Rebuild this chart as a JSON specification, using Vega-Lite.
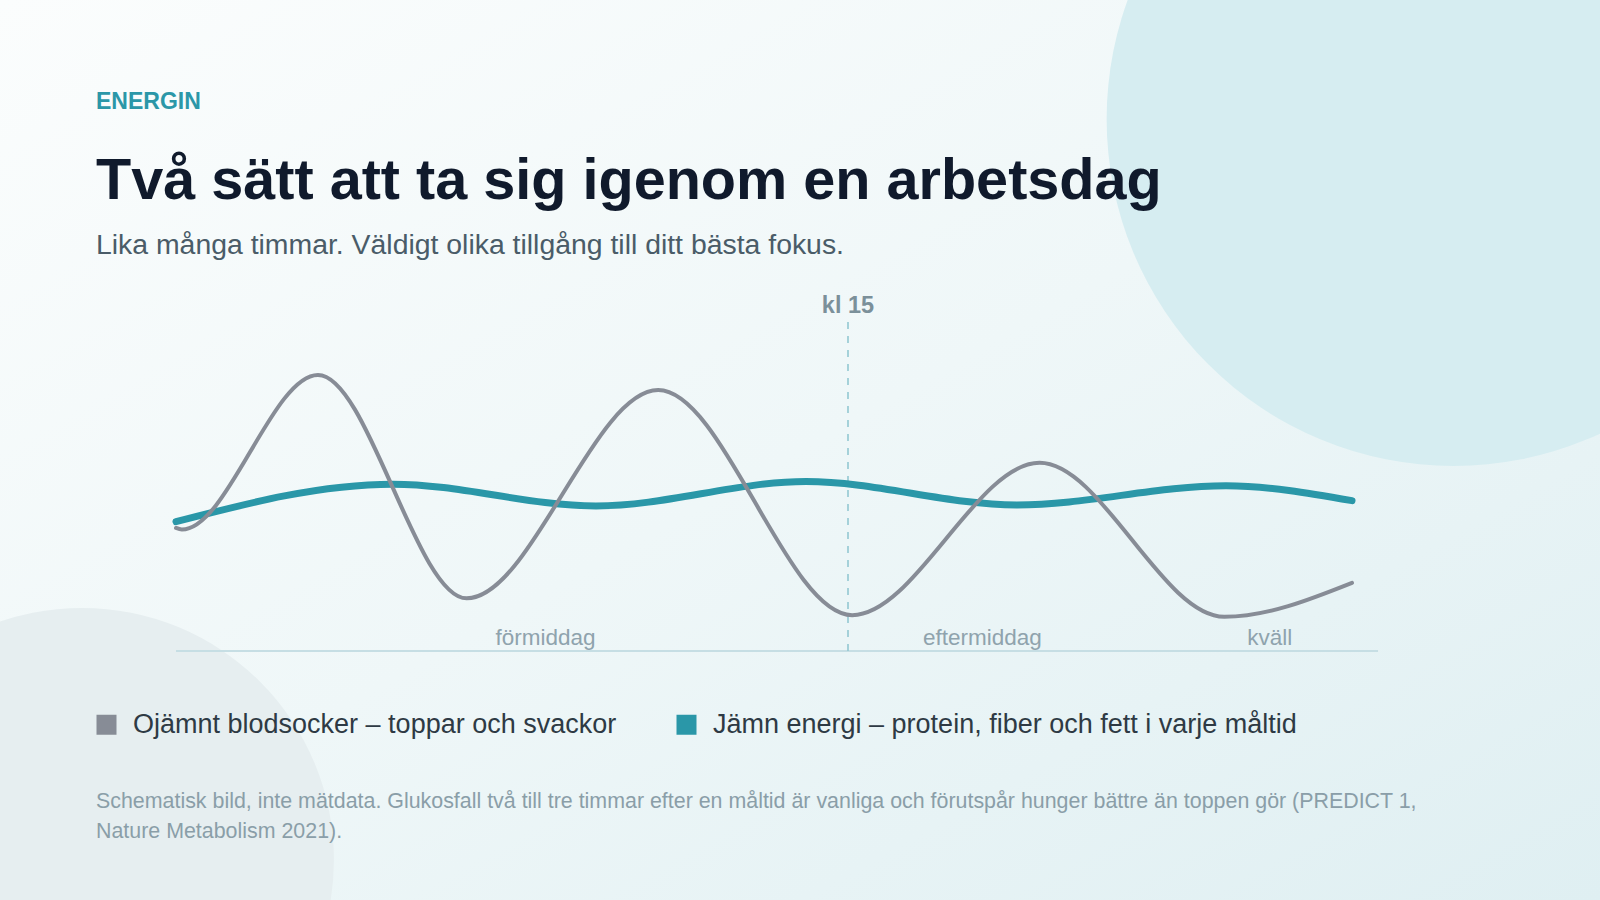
{
  "$schema": "https://vega.github.io/schema/vega-lite/v6.json",
  "width": 1600,
  "height": 900,
  "padding": 0,
  "autosize": {"type": "none"},
  "background": "#f2f8f9",
  "config": {
    "view": {"stroke": null},
    "font": "Liberation Sans",
    "legend": {
      "orient": "none",
      "legendX": 93,
      "legendY": 711,
      "direction": "horizontal",
      "symbolType": "square",
      "symbolSize": 100,
      "symbolStrokeWidth": 10,
      "symbolOpacity": 1,
      "labelFont": "Liberation Sans",
      "labelFontSize": 27,
      "labelColor": "#2e3a44",
      "labelLimit": 1000,
      "labelOffset": 13,
      "columnPadding": 44
    }
  },
  "datasets": {
    "kurvor": [
      {"serie": "Jämn energi – protein, fiber och fett i varje måltid", "timme": 7.0, "niva": 39.3},
      {"serie": "Jämn energi – protein, fiber och fett i varje måltid", "timme": 9.58, "niva": 50.7},
      {"serie": "Jämn energi – protein, fiber och fett i varje måltid", "timme": 12.0, "niva": 44.1},
      {"serie": "Jämn energi – protein, fiber och fett i varje måltid", "timme": 14.5, "niva": 51.5},
      {"serie": "Jämn energi – protein, fiber och fett i varje måltid", "timme": 17.01, "niva": 44.4},
      {"serie": "Jämn energi – protein, fiber och fett i varje måltid", "timme": 19.5, "niva": 50.2},
      {"serie": "Jämn energi – protein, fiber och fett i varje måltid", "timme": 21.0, "niva": 45.7},
      {"serie": "Ojämnt blodsocker – toppar och svackor", "timme": 7.0, "niva": 37.4},
      {"serie": "Ojämnt blodsocker – toppar och svackor", "timme": 7.07, "niva": 36.9},
      {"serie": "Ojämnt blodsocker – toppar och svackor", "timme": 8.69, "niva": 83.9},
      {"serie": "Ojämnt blodsocker – toppar och svackor", "timme": 10.46, "niva": 16.0},
      {"serie": "Ojämnt blodsocker – toppar och svackor", "timme": 12.74, "niva": 79.3},
      {"serie": "Ojämnt blodsocker – toppar och svackor", "timme": 15.05, "niva": 10.9},
      {"serie": "Ojämnt blodsocker – toppar och svackor", "timme": 17.28, "niva": 57.2},
      {"serie": "Ojämnt blodsocker – toppar och svackor", "timme": 19.48, "niva": 10.4},
      {"serie": "Ojämnt blodsocker – toppar och svackor", "timme": 21.0, "niva": 20.7}
    ],
    "perioder": [
      {"period": "förmiddag", "timme": 11.4},
      {"period": "eftermiddag", "timme": 16.6},
      {"period": "kväll", "timme": 20.02}
    ]
  },
  "layer": [
    {
      "data": {"values": [{}]},
      "mark": {
        "type": "rect",
        "fill": {
          "gradient": "linear",
          "x1": 0, "y1": 0, "x2": 1, "y2": 1,
          "stops": [
            {"offset": 0, "color": "#fbfdfd"},
            {"offset": 0.5, "color": "#eff7f8"},
            {"offset": 1, "color": "#dfeff2"}
          ]
        }
      },
      "encoding": {}
    },
    {
      "data": {"values": [{}]},
      "mark": {"type": "point", "shape": "circle", "filled": true, "opacity": 1, "size": 481636, "color": "#d6edf1"},
      "encoding": {
        "x": {"datum": 22.21, "type": "quantitative", "scale": {"domain": [7, 21], "range": [176, 1352], "nice": false, "zero": false}, "axis": null},
        "y": {"datum": 161.7, "type": "quantitative", "scale": {"domain": [0, 100], "range": [651, 322], "nice": false, "zero": false}, "axis": null}
      }
    },
    {
      "data": {"values": [{}]},
      "mark": {"type": "point", "shape": "circle", "filled": true, "opacity": 1, "size": 254016, "color": "#e6eef0"},
      "encoding": {
        "x": {"datum": 5.88, "type": "quantitative"},
        "y": {"datum": -63.5, "type": "quantitative"}
      }
    },
    {
      "data": {"values": [{}]},
      "mark": {"type": "rule", "color": "#c6dee4", "strokeWidth": 2},
      "encoding": {
        "x": {"datum": 7, "type": "quantitative"},
        "x2": {"datum": 21.31},
        "y": {"datum": 0, "type": "quantitative"}
      }
    },
    {
      "data": {"values": [{}]},
      "mark": {"type": "rule", "color": "#93c8d2", "strokeWidth": 1.6, "strokeDash": [7, 7]},
      "encoding": {
        "x": {"datum": 15, "type": "quantitative"},
        "y": {"datum": 0, "type": "quantitative"},
        "y2": {"datum": 100.9}
      }
    },
    {
      "data": {"values": [{}]},
      "mark": {"type": "text", "text": "kl 15", "align": "center", "baseline": "alphabetic", "fontSize": 23.5, "fontWeight": "bold", "color": "#7b909a"},
      "encoding": {
        "x": {"datum": 15, "type": "quantitative"},
        "y": {"datum": 102.7, "type": "quantitative"}
      }
    },
    {
      "data": {"name": "perioder"},
      "mark": {"type": "text", "align": "center", "baseline": "alphabetic", "fontSize": 22.5, "color": "#8fa3ad"},
      "encoding": {
        "x": {"field": "timme", "type": "quantitative"},
        "y": {"datum": 1.8, "type": "quantitative"},
        "text": {"field": "period"}
      }
    },
    {
      "data": {"name": "kurvor"},
      "transform": [{"filter": "datum.serie === 'Jämn energi – protein, fiber och fett i varje måltid'"}],
      "mark": {"type": "line", "interpolate": "monotone", "strokeWidth": 7, "strokeCap": "round"},
      "encoding": {
        "x": {"field": "timme", "type": "quantitative"},
        "y": {"field": "niva", "type": "quantitative"},
        "color": {
          "field": "serie", "type": "nominal",
          "scale": {"domain": ["Ojämnt blodsocker – toppar och svackor", "Jämn energi – protein, fiber och fett i varje måltid"], "range": ["#878c96", "#2a97a8"]},
          "legend": {"title": null}
        }
      }
    },
    {
      "data": {"name": "kurvor"},
      "transform": [{"filter": "datum.serie === 'Ojämnt blodsocker – toppar och svackor'"}],
      "mark": {"type": "line", "interpolate": "monotone", "strokeWidth": 4, "strokeCap": "round"},
      "encoding": {
        "x": {"field": "timme", "type": "quantitative"},
        "y": {"field": "niva", "type": "quantitative"},
        "color": {"field": "serie", "type": "nominal", "legend": {"title": null}}
      }
    },
    {
      "data": {"values": [{}]},
      "mark": {"type": "text", "text": "ENERGIN", "align": "left", "baseline": "alphabetic", "fontSize": 23, "fontWeight": "bold", "color": "#2b97a8"},
      "encoding": {
        "x": {"datum": 6.0476, "type": "quantitative"},
        "y": {"datum": 164.7, "type": "quantitative"}
      }
    },
    {
      "data": {"values": [{}]},
      "mark": {"type": "text", "text": "Två sätt att ta sig igenom en arbetsdag", "align": "left", "baseline": "alphabetic", "fontSize": 57.6, "fontWeight": "bold", "color": "#101a2c"},
      "encoding": {
        "x": {"datum": 6.0476, "type": "quantitative"},
        "y": {"datum": 137.4, "type": "quantitative"}
      }
    },
    {
      "data": {"values": [{}]},
      "mark": {"type": "text", "text": "Lika många timmar. Väldigt olika tillgång till ditt bästa fokus.", "align": "left", "baseline": "alphabetic", "fontSize": 28.4, "color": "#4a5c68"},
      "encoding": {
        "x": {"datum": 6.0476, "type": "quantitative"},
        "y": {"datum": 120.7, "type": "quantitative"}
      }
    },
    {
      "data": {"values": [{}]},
      "mark": {"type": "text", "text": ["Schematisk bild, inte mätdata. Glukosfall två till tre timmar efter en måltid är vanliga och förutspår hunger bättre än toppen gör (PREDICT 1,", "Nature Metabolism 2021)."], "align": "left", "baseline": "alphabetic", "fontSize": 21.4, "lineHeight": 30, "color": "#8a9ea8"},
      "encoding": {
        "x": {"datum": 6.0476, "type": "quantitative"},
        "y": {"datum": -47.7, "type": "quantitative"}
      }
    }
  ]
}
